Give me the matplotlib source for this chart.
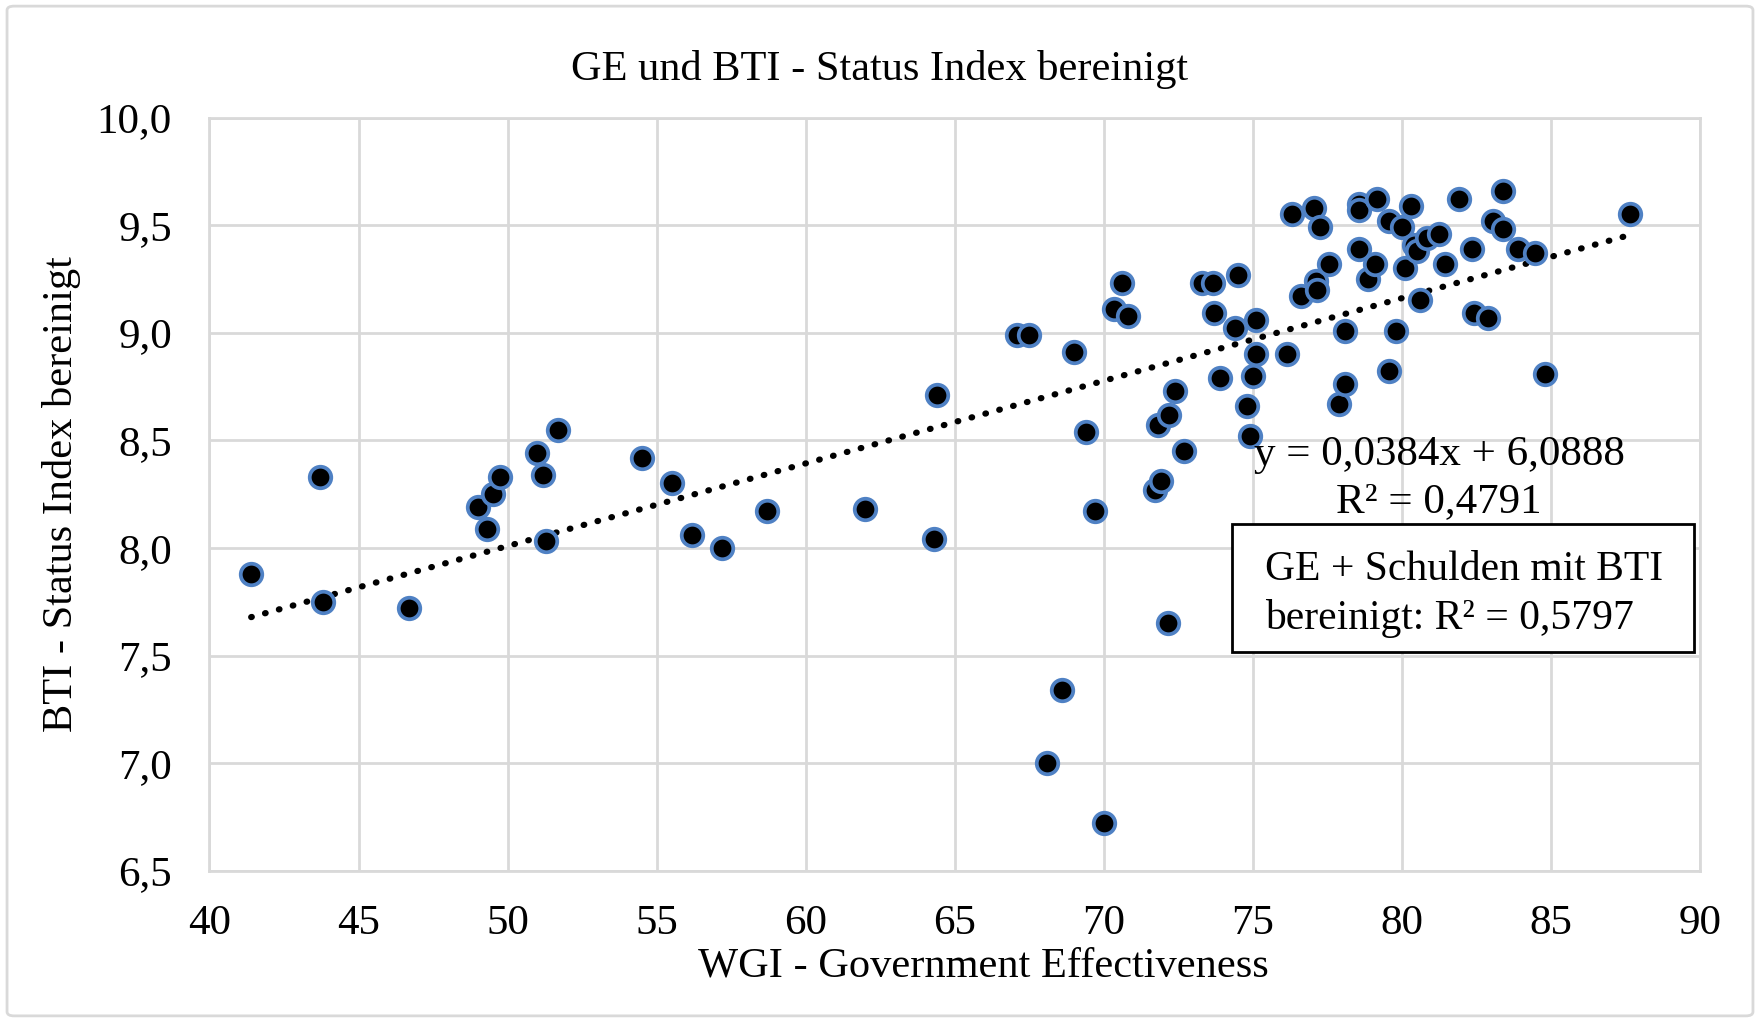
import numpy as np
import matplotlib
matplotlib.use("Agg")
import matplotlib.pyplot as plt
from matplotlib.ticker import FuncFormatter, MultipleLocator
from matplotlib.patches import FancyBboxPatch, Rectangle

plt.rcParams['font.family'] = ['Liberation Serif', 'DejaVu Serif']

# WGI - Government Effectiveness (x) und BTI - Status Index bereinigt (y)
wgi = [41.4, 43.7, 43.8, 46.7, 49.0, 49.5, 49.75, 49.3, 51.0, 51.2, 51.3, 51.7,
       54.5, 55.5, 56.2, 57.2, 58.7, 62.0, 64.3, 64.4, 67.1, 67.5, 69.0, 69.4,
       69.7, 68.6, 68.1, 70.0, 70.35, 70.6, 70.8, 71.7, 71.9, 71.8, 72.2, 72.4,
       72.7, 72.15, 73.3, 73.65, 73.7, 73.9, 74.4, 74.5, 74.8, 74.9, 75.0, 75.1,
       75.1, 76.15, 76.3, 76.6, 77.05, 77.25, 77.1, 77.15, 77.55, 77.9, 78.1, 78.1,
       78.55, 78.55, 78.55, 78.85, 79.1, 79.15, 79.55, 79.55, 79.8, 80.0, 80.1, 80.3,
       80.4, 80.5, 80.6, 80.85, 81.25, 81.45, 81.9, 82.35, 82.4, 82.9, 83.05, 83.4,
       83.4, 83.9, 84.45, 84.8, 87.65]
bti = [7.88, 8.33, 7.75, 7.72, 8.19, 8.25, 8.33, 8.09, 8.44, 8.34, 8.03, 8.55,
       8.42, 8.30, 8.06, 8.00, 8.17, 8.18, 8.04, 8.71, 8.99, 8.99, 8.91, 8.54,
       8.17, 7.34, 7.00, 6.72, 9.11, 9.23, 9.08, 8.27, 8.31, 8.57, 8.62, 8.73,
       8.45, 7.65, 9.23, 9.23, 9.09, 8.79, 9.02, 9.27, 8.66, 8.52, 8.80, 8.90,
       9.06, 8.90, 9.55, 9.17, 9.58, 9.49, 9.24, 9.20, 9.32, 8.67, 8.76, 9.01,
       9.60, 9.57, 9.39, 9.25, 9.32, 9.62, 9.52, 8.82, 9.01, 9.49, 9.30, 9.59,
       9.41, 9.38, 9.15, 9.44, 9.46, 9.32, 9.62, 9.39, 9.09, 9.07, 9.52, 9.48,
       9.66, 9.39, 9.37, 8.81, 9.55]

slope = 0.0384
intercept = 6.0888
r2 = "0,4791"
r2_box = "0,5797"

fig = plt.figure(figsize=(17.6, 10.22), dpi=100)
fig.patch.set_facecolor('white')
border = FancyBboxPatch((0.004, 0.006), 0.992, 0.988, boxstyle="round,pad=0,rounding_size=0.004",
                        transform=fig.transFigure, fill=False, edgecolor='#d9d9d9', linewidth=2)
fig.patches.append(border)

ax = fig.add_axes([0.119, 0.148, 0.847, 0.737])

ax.grid(True, color='#d9d9d9', linewidth=2)
ax.set_axisbelow(True)
for s in ax.spines.values():
    s.set_color('#d9d9d9')
    s.set_linewidth(2)

# Trendlinie
xt = np.array([min(wgi), max(wgi)])
ax.plot(xt, slope * xt + intercept, linestyle=(0, (0.1, 2.2)), dash_capstyle='round',
        color='black', linewidth=4.5, zorder=2)

ax.scatter(wgi, bti, s=240, c='black', edgecolors='#4f81c4', linewidths=2.7, zorder=3)

ax.set_xlim(40, 90)
ax.set_ylim(6.5, 10.0)
ax.xaxis.set_major_locator(MultipleLocator(5))
ax.yaxis.set_major_locator(MultipleLocator(0.5))
ax.yaxis.set_major_formatter(FuncFormatter(lambda v, p: f"{v:.1f}".replace('.', ',')))
ax.xaxis.set_major_formatter(FuncFormatter(lambda v, p: f"{v:.0f}"))
ax.tick_params(length=0, labelsize=31)
ax.tick_params(axis='y', pad=27)
ax.tick_params(axis='x', pad=24)

fig.text(0.5, 0.932, "GE und BTI - Status Index bereinigt", fontsize=30.5,
         ha='center', va='center')
fig.text(0.559, 0.055, "WGI - Government Effectiveness", fontsize=30.5,
         ha='center', va='center')
ax.set_ylabel("BTI - Status Index bereinigt", fontsize=30.5, labelpad=11)

ax.text(0.825, 0.552, "y = 0,0384x + 6,0888", transform=ax.transAxes, fontsize=31,
        ha='center', va='center')
ax.text(0.825, 0.49, "R² = " + r2, transform=ax.transAxes, fontsize=31,
        ha='center', va='center')

ax.add_patch(Rectangle((0.686, 0.291), 0.31, 0.169, transform=ax.transAxes,
                       facecolor='white', edgecolor='black', linewidth=2, zorder=5))
ax.text(0.708, 0.367, "GE + Schulden mit BTI\nbereinigt: R² = " + r2_box,
        transform=ax.transAxes, fontsize=30, ha='left', va='center', linespacing=1.32,
        zorder=6)

fig.savefig("out.png", dpi=100)
